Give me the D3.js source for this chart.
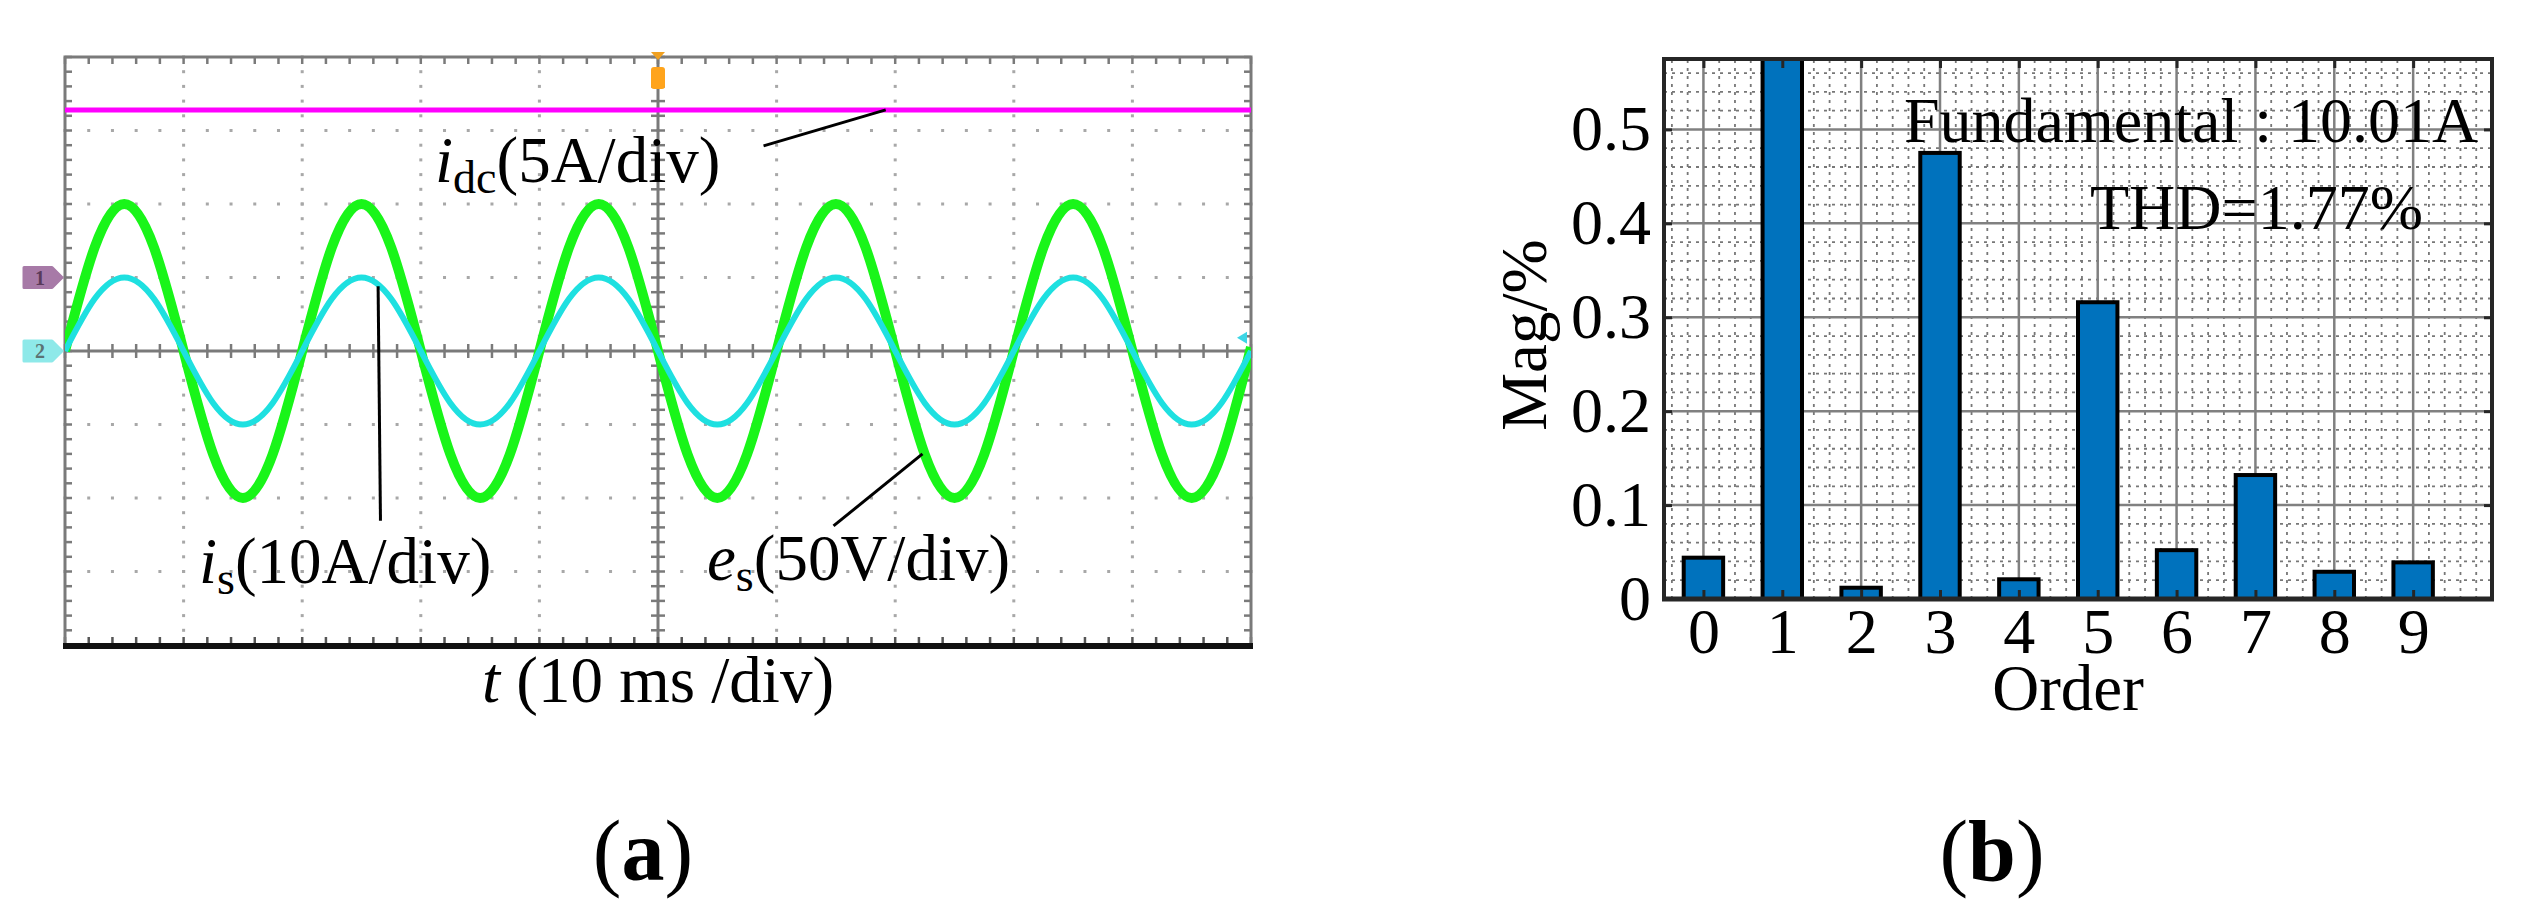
<!DOCTYPE html>
<html>
<head>
<meta charset="utf-8">
<script src="https://cdn.jsdelivr.net/npm/d3@7"></script>
<style>
  html, body { margin: 0; padding: 0; background: #fff; }
  svg { display: block; }
  text { font-family: "Liberation Serif", "Times New Roman", serif; fill: #000; }
</style>
</head>
<body>
<svg id="fig" width="2528" height="917"></svg>
<script>
//------------------------------------------------------//
// Data
//------------------------------------------------------//
// (a) scope traces, in screen divisions, sampled every 2.5 ms
const timeMs = [0, 2.5, 5, 7.5, 10, 12.5, 15, 17.5, 20, 22.5, 25, 27.5, 30, 32.5, 35, 37.5,
  40, 42.5, 45, 47.5, 50, 52.5, 55, 57.5, 60, 62.5, 65, 67.5, 70, 72.5, 75, 77.5,
  80, 82.5, 85, 87.5, 90, 92.5, 95, 97.5, 100];
const esDiv = [0, 1.41, 2, 1.41, 0, -1.41, -2, -1.41, 0, 1.41, 2, 1.41, 0, -1.41, -2, -1.41,
  0, 1.41, 2, 1.41, 0, -1.41, -2, -1.41, 0, 1.41, 2, 1.41, 0, -1.41, -2, -1.41,
  0, 1.41, 2, 1.41, 0, -1.41, -2, -1.41, 0.05];
const isDiv = [0, 0.71, 1, 0.71, 0, -0.71, -1, -0.71, 0, 0.71, 1, 0.71, 0, -0.71, -1, -0.71,
  0, 0.71, 1, 0.71, 0, -0.71, -1, -0.71, 0, 0.71, 1, 0.71, 0, -0.71, -1, -0.71,
  0, 0.71, 1, 0.71, 0, -0.71, -1, -0.71, 0];
const idcTime = [0, 100];
const idcDiv = [3.28, 3.28];

// (b) harmonic spectrum
const orders = [0, 1, 2, 3, 4, 5, 6, 7, 8, 9];
const mags = [0.044, 100, 0.012, 0.475, 0.021, 0.316, 0.052, 0.132, 0.029, 0.039];
const magTicks = [0, 0.1, 0.2, 0.3, 0.4, 0.5];

const svg = d3.select("#fig");
const defs = svg.append("defs");

//------------------------------------------------------//
// Panel (a): oscilloscope
//------------------------------------------------------//
const xa = d3.scaleLinear().domain([0, 100]).range([65, 1251]);
const ya = d3.scaleLinear().domain([-4, 4]).range([645, 57]);
const gA = svg.append("g");

defs.append("clipPath").attr("id", "clipA")
  .append("rect")
  .attr("x", xa(0)).attr("y", ya(4))
  .attr("width", xa(100) - xa(0)).attr("height", ya(-4) - ya(4));

const divX = d3.range(10, 100, 10).filter(d => d !== 50);
const divY = d3.range(-3, 4, 1).filter(d => d !== 0);
const subX = d3.range(0, 100.01, 2);
const subY = d3.range(-4, 4.01, 0.2);

// dotted graticule
const dots = [];
divX.forEach(dx => subY.forEach(sy => dots.push([dx, sy])));
divY.forEach(dy => subX.forEach(sx => dots.push([sx, dy])));
gA.append("g").selectAll("rect").data(dots).join("rect")
  .attr("x", d => xa(d[0]) - 1.5).attr("y", d => ya(d[1]) - 1.5)
  .attr("width", 3).attr("height", 3)
  .attr("fill", "#a8a8a8");

// centre axes with sub-division ticks
const axCol = "#7a7a7a";
gA.append("line")
  .attr("x1", xa(0)).attr("x2", xa(100)).attr("y1", ya(0)).attr("y2", ya(0))
  .attr("stroke", axCol).attr("stroke-width", 3);
gA.append("line")
  .attr("x1", xa(50)).attr("x2", xa(50)).attr("y1", ya(-4)).attr("y2", ya(4))
  .attr("stroke", axCol).attr("stroke-width", 3);
gA.append("g").selectAll("line").data(subX).join("line")
  .attr("x1", d => xa(d)).attr("x2", d => xa(d))
  .attr("y1", ya(0) - 7).attr("y2", ya(0) + 7)
  .attr("stroke", axCol).attr("stroke-width", 2.5);
gA.append("g").selectAll("line").data(subY).join("line")
  .attr("x1", xa(50) - 7).attr("x2", xa(50) + 7)
  .attr("y1", d => ya(d)).attr("y2", d => ya(d))
  .attr("stroke", axCol).attr("stroke-width", 2.5);

// border ticks
gA.append("g").selectAll("line").data(subX).join("line")
  .attr("x1", d => xa(d)).attr("x2", d => xa(d))
  .attr("y1", ya(4)).attr("y2", ya(4) + 7)
  .attr("stroke", axCol).attr("stroke-width", 2.5);
gA.append("g").selectAll("line").data(subX).join("line")
  .attr("x1", d => xa(d)).attr("x2", d => xa(d))
  .attr("y1", ya(-4)).attr("y2", ya(-4) - 8)
  .attr("stroke", "#555").attr("stroke-width", 2.5);
gA.append("g").selectAll("line").data(subY).join("line")
  .attr("x1", xa(0)).attr("x2", xa(0) + 7)
  .attr("y1", d => ya(d)).attr("y2", d => ya(d))
  .attr("stroke", axCol).attr("stroke-width", 2.5);
gA.append("g").selectAll("line").data(subY).join("line")
  .attr("x1", xa(100)).attr("x2", xa(100) - 7)
  .attr("y1", d => ya(d)).attr("y2", d => ya(d))
  .attr("stroke", axCol).attr("stroke-width", 2.5);

// frame
gA.append("rect")
  .attr("x", xa(0)).attr("y", ya(4))
  .attr("width", xa(100) - xa(0)).attr("height", ya(-4) - ya(4))
  .attr("fill", "none").attr("stroke", axCol).attr("stroke-width", 3);
gA.append("line")
  .attr("x1", xa(0) - 2).attr("x2", xa(100) + 2).attr("y1", ya(-4) + 1).attr("y2", ya(-4) + 1)
  .attr("stroke", "#111").attr("stroke-width", 6);

// traces
const trace = d3.line().x(d => xa(d[0])).y(d => ya(d[1])).curve(d3.curveNatural);
const traces = gA.append("g").attr("clip-path", "url(#clipA)");
traces.append("path")
  .datum(idcTime.map((t, i) => [t, idcDiv[i]]))
  .attr("d", d3.line().x(d => xa(d[0])).y(d => ya(d[1])))
  .attr("fill", "none").attr("stroke", "#ff00ff").attr("stroke-width", 5);
traces.append("path")
  .datum(timeMs.map((t, i) => [t, esDiv[i]]))
  .attr("d", trace)
  .attr("fill", "none").attr("stroke", "#19f519").attr("stroke-width", 10);
traces.append("path")
  .datum(timeMs.map((t, i) => [t, isDiv[i]]))
  .attr("d", trace)
  .attr("fill", "none").attr("stroke", "#1ee0e0").attr("stroke-width", 6);

// channel / trigger markers
const chMark = (yv, fill, txtFill, label) => {
  const y0 = ya(yv);
  gA.append("path")
    .attr("d", `M24,${y0 - 10} H52 L62,${y0} L52,${y0 + 10} H24 Z`)
    .attr("fill", fill).attr("stroke", fill).attr("stroke-width", 3).attr("stroke-linejoin", "round");
  gA.append("text").attr("x", 40).attr("y", y0 + 7)
    .attr("text-anchor", "middle").attr("font-family", "DejaVu Sans").attr("font-weight", "bold")
    .attr("font-size", 20).style("fill", txtFill).text(label);
};
chMark(1, "#a77aa7", "#5a3a5a", "1");
chMark(0, "#8ee9e9", "#5b7373", "2");

gA.append("path")
  .attr("d", `M${xa(50) - 7},${ya(4) - 5} L${xa(50) + 7},${ya(4) - 5} L${xa(50)},${ya(4) + 3} Z`)
  .attr("fill", "#f0a020");
gA.append("rect")
  .attr("x", xa(50) - 7).attr("y", ya(4) + 10).attr("width", 14).attr("height", 22)
  .attr("rx", 3).attr("fill", "#ffa41c");
gA.append("path")
  .attr("d", `M${xa(100) - 14},${ya(0.18)} L${xa(100) - 4},${ya(0.18) - 6} L${xa(100) - 4},${ya(0.18) + 6} Z`)
  .attr("fill", "#3cd6e6");

// annotations
const ann = (x, y, v, sub, rest) => {
  const t = gA.append("text").attr("x", x).attr("y", y).attr("font-size", 65);
  t.append("tspan").attr("font-style", "italic").text(v);
  t.append("tspan").attr("font-size", 46).attr("dy", 11).text(sub);
  t.append("tspan").attr("dy", -11).text(rest);
};
ann(435, 182, "i", "dc", "(5A/div)");
ann(199, 583, "i", "s", "(10A/div)");
ann(707, 580, "e", "s", "(50V/div)");

const leaders = [
  [[58.9, 2.79], [69.2, 3.28]],
  [[26.4, 0.88], [26.6, -2.31]],
  [[72.3, -1.40], [64.8, -2.38]]
];
gA.append("g").selectAll("line").data(leaders).join("line")
  .attr("x1", d => xa(d[0][0])).attr("y1", d => ya(d[0][1]))
  .attr("x2", d => xa(d[1][0])).attr("y2", d => ya(d[1][1]))
  .attr("stroke", "#000").attr("stroke-width", 3);

const tl = gA.append("text").attr("x", xa(50)).attr("y", 702)
  .attr("text-anchor", "middle").attr("font-size", 65);
tl.append("tspan").attr("font-style", "italic").text("t");
tl.append("tspan").text(" (10 ms /div)");

const la = svg.append("text").attr("x", 643).attr("y", 880)
  .attr("text-anchor", "middle").attr("font-size", 86);
la.append("tspan").text("(");
la.append("tspan").attr("font-weight", "bold").text("a");
la.append("tspan").text(")");

//------------------------------------------------------//
// Panel (b): harmonic spectrum
//------------------------------------------------------//
const xb = d3.scaleLinear().domain([-0.5, 10]).range([1664, 2492]);
const yb = d3.scaleLinear().domain([0, 0.575]).range([599, 59]);
const gB = svg.append("g");
const frameCol = "#262626";

defs.append("clipPath").attr("id", "clipB")
  .append("rect")
  .attr("x", xb(-0.5)).attr("y", yb(0.575))
  .attr("width", xb(10) - xb(-0.5)).attr("height", yb(0) - yb(0.575));

// minor grid (dotted)
const minorX = d3.range(-0.4, 10, 0.2).filter(d => Math.abs(d - Math.round(d)) > 0.01);
const minorY = d3.range(0.02, 0.575, 0.02).filter(d => Math.abs(d * 10 - Math.round(d * 10)) > 0.01);
gB.append("g").selectAll("line").data(minorX).join("line")
  .attr("x1", d => xb(d)).attr("x2", d => xb(d)).attr("y1", yb(0)).attr("y2", yb(0.575))
  .attr("stroke", "#777").attr("stroke-width", 1.8).attr("stroke-dasharray", "3,5");
gB.append("g").selectAll("line").data(minorY).join("line")
  .attr("x1", xb(-0.5)).attr("x2", xb(10)).attr("y1", d => yb(d)).attr("y2", d => yb(d))
  .attr("stroke", "#777").attr("stroke-width", 1.8).attr("stroke-dasharray", "3,5");

// major grid
gB.append("g").selectAll("line").data(orders).join("line")
  .attr("x1", d => xb(d)).attr("x2", d => xb(d)).attr("y1", yb(0)).attr("y2", yb(0.575))
  .attr("stroke", "#808080").attr("stroke-width", 2.5);
gB.append("g").selectAll("line").data(magTicks.slice(1)).join("line")
  .attr("x1", xb(-0.5)).attr("x2", xb(10)).attr("y1", d => yb(d)).attr("y2", d => yb(d))
  .attr("stroke", "#808080").attr("stroke-width", 2.5);

// bars
gB.append("g").attr("clip-path", "url(#clipB)")
  .selectAll("rect").data(orders).join("rect")
  .attr("x", d => xb(d - 0.25))
  .attr("width", xb(0.25) - xb(-0.25))
  .attr("y", (d, i) => yb(mags[i]))
  .attr("height", (d, i) => yb(0) - yb(mags[i]))
  .attr("fill", "#0072bd").attr("stroke", "#000").attr("stroke-width", 4);

// axes
const styleAxis = g => {
  g.select(".domain").remove();
  g.selectAll(".tick line").attr("stroke", frameCol).attr("stroke-width", 3);
  g.selectAll(".tick text").attr("font-family", "Liberation Serif, Times New Roman, serif")
    .attr("font-size", 64).style("fill", "#000");
};
gB.append("g").attr("transform", `translate(0,${yb(0)})`)
  .call(d3.axisBottom(xb).tickValues(orders).tickSize(-9).tickPadding(9).tickFormat(d3.format("d")))
  .call(styleAxis);
gB.append("g").attr("transform", `translate(0,${yb(0.575)})`)
  .call(d3.axisTop(xb).tickValues(orders).tickSize(-9).tickFormat(""))
  .call(styleAxis);
gB.append("g").attr("transform", `translate(${xb(-0.5)},0)`)
  .call(d3.axisLeft(yb).tickValues(magTicks).tickSize(-8).tickPadding(13).tickFormat(d3.format("")))
  .call(styleAxis);
gB.append("g").attr("transform", `translate(${xb(10)},0)`)
  .call(d3.axisRight(yb).tickValues(magTicks).tickSize(-8).tickFormat(""))
  .call(styleAxis);

gB.append("rect")
  .attr("x", xb(-0.5)).attr("y", yb(0.575))
  .attr("width", xb(10) - xb(-0.5)).attr("height", yb(0) - yb(0.575))
  .attr("fill", "none").attr("stroke", frameCol).attr("stroke-width", 4);
gB.append("line")
  .attr("x1", xb(-0.5) - 2).attr("x2", xb(10) + 2).attr("y1", yb(0)).attr("y2", yb(0))
  .attr("stroke", frameCol).attr("stroke-width", 5);

gB.append("text").attr("x", 2068).attr("y", 710)
  .attr("text-anchor", "middle").attr("font-size", 65).text("Order");
gB.append("text").attr("transform", "translate(1546,335) rotate(-90)")
  .attr("text-anchor", "middle").attr("font-size", 65).text("Mag/%");

gB.append("text").attr("x", 1904).attr("y", 142).attr("font-size", 64)
  .text("Fundamental : 10.01A");
gB.append("text").attr("x", 2090).attr("y", 229).attr("font-size", 64)
  .text("THD=1.77%");

const lb = svg.append("text").attr("x", 1992).attr("y", 880)
  .attr("text-anchor", "middle").attr("font-size", 86);
lb.append("tspan").text("(");
lb.append("tspan").attr("font-weight", "bold").text("b");
lb.append("tspan").text(")");
</script>
</body>
</html>
